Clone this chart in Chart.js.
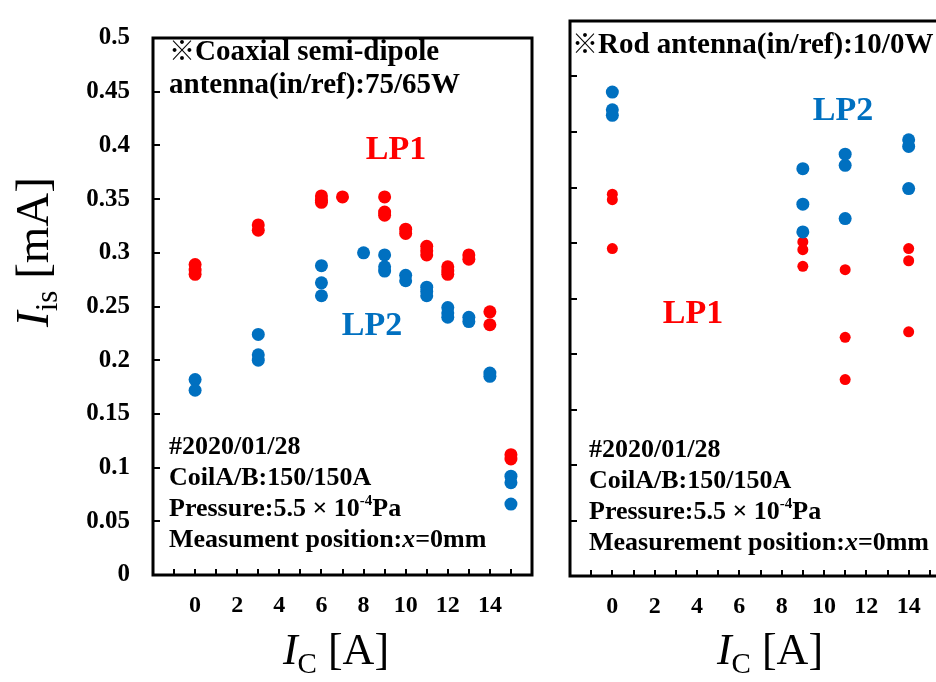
<!DOCTYPE html>
<html>
<head>
<meta charset="utf-8">
<script src="https://cdn.jsdelivr.net/npm/chart.js@4.4.0/dist/chart.umd.min.js"></script>
<style>
  html, body { margin: 0; padding: 0; background: #fff; overflow: hidden; }
  #wrap { position: relative; width: 936px; height: 682px; overflow: hidden; }
  canvas { position: absolute; top: 0; }
  #coax { left: 0; }
  #rod { left: 550px; }
</style>
</head>
<body>
<div id="wrap">
  <canvas id="coax" width="548" height="682" style="width:548px;height:682px"></canvas>
  <canvas id="rod" width="420" height="682" style="width:420px;height:682px"></canvas>
</div>
<script>
// Ion saturation current I_is [mA] vs coil current I_C [A]

// coaxial semi-dipole antenna, 75/65 W
const coaxLP1Ic  = [0, 0, 0, 3, 3, 6, 6, 6, 7, 9, 9, 9, 10, 10, 11, 11, 11, 12, 12, 12, 13, 13, 14, 14, 15, 15];
const coaxLP1Iis = [0.289, 0.284, 0.280, 0.326, 0.321, 0.353, 0.349, 0.347, 0.352, 0.352, 0.338, 0.335,
                    0.322, 0.318, 0.306, 0.302, 0.298, 0.287, 0.283, 0.280, 0.298, 0.294, 0.245, 0.233, 0.112, 0.108];
const coaxLP2Ic  = [0, 0, 3, 3, 3, 6, 6, 6, 8, 9, 9, 9, 10, 10, 11, 11, 11, 12, 12, 12, 13, 13, 14, 14, 15, 15, 15];
const coaxLP2Iis = [0.182, 0.172, 0.224, 0.205, 0.200, 0.288, 0.272, 0.260, 0.300, 0.298, 0.287, 0.283,
                    0.279, 0.274, 0.268, 0.264, 0.260, 0.249, 0.244, 0.240, 0.240, 0.236, 0.188, 0.185, 0.092, 0.086, 0.066];

// rod antenna, 10/0 W
const rodLP1Ic  = [0, 0, 0, 9, 9, 9, 11, 11, 11, 14, 14, 14];
const rodLP1Iis = [0.344, 0.339, 0.295, 0.301, 0.294, 0.279, 0.276, 0.215, 0.177, 0.295, 0.284, 0.220];
const rodLP2Ic  = [0, 0, 0, 9, 9, 9, 11, 11, 11, 14, 14, 14];
const rodLP2Iis = [0.436, 0.420, 0.415, 0.367, 0.335, 0.310, 0.380, 0.370, 0.322, 0.393, 0.387, 0.349];

// axes
const icMin = -2, icMax = 16, icStep = 1;
const icLabels = [0, 2, 4, 6, 8, 10, 12, 14];
const iisMin = 0, iisMax = 0.5, iisStep = 0.05;

const RED = '#ff0000';
const BLUE = '#0070c0';
const SERIF = "'Liberation Serif', 'Times New Roman', 'Noto Sans CJK JP', serif";

function pts(xs, ys) {
  return xs.map((x, i) => ({ x: x, y: ys[i] }));
}

// draw a run of text pieces one after another
function runs(ctx, x, y, parts, align) {
  let total = 0;
  parts.forEach(p => { ctx.font = p.font; total += ctx.measureText(p.t).width; });
  let cx = align === 'center' ? x - total / 2 : x;
  parts.forEach(p => {
    ctx.font = p.font;
    ctx.fillStyle = p.color || '#000';
    ctx.fillText(p.t, cx, y + (p.dy || 0));
    cx += ctx.measureText(p.t).width;
  });
}

const B = s => 'bold ' + s + 'px ' + SERIF;
const BI = s => 'italic bold ' + s + 'px ' + SERIF;
const R = s => s + 'px ' + SERIF;
const I = s => 'italic ' + s + 'px ' + SERIF;

const panelDecor = {
  id: 'panelDecor',
  afterDatasetsDraw(chart, args, o) {
    const ctx = chart.ctx, a = chart.chartArea;
    const xs = chart.scales.x, ys = chart.scales.y;
    ctx.save();
    ctx.strokeStyle = '#000';
    ctx.lineWidth = 3;
    ctx.strokeRect(a.left, a.top, a.right - a.left, a.bottom - a.top);

    // inward tick marks
    ctx.lineWidth = 2;
    ctx.beginPath();
    ys.ticks.forEach(t => {
      if (t.value <= iisMin || t.value >= iisMax - 1e-9) return;
      const py = Math.round(ys.getPixelForValue(t.value));
      ctx.moveTo(a.left, py); ctx.lineTo(a.left + 7, py);
    });
    xs.ticks.forEach(t => {
      if (t.value <= icMin || t.value >= icMax) return;
      const px = Math.round(xs.getPixelForValue(t.value));
      ctx.moveTo(px, a.bottom); ctx.lineTo(px, a.bottom - 6);
    });
    ctx.stroke();

    ctx.textBaseline = 'alphabetic';
    ctx.textAlign = 'left';
    o.notes.forEach(n => runs(ctx, n.x, n.y, n.parts, n.align));

    // x axis title: I_C [A]
    runs(ctx, o.xTitleX, 664, [
      { t: 'I', font: I(44) },
      { t: 'C', font: R(29), dy: 9 },
      { t: ' [A]', font: R(44) }
    ], 'center');

    if (o.yTitle) {
      ctx.translate(48, 252);
      ctx.rotate(-Math.PI / 2);
      runs(ctx, 0, 0, [
        { t: 'I', font: I(47) },
        { t: 'is', font: R(31), dy: 9 },
        { t: ' [mA]', font: R(47) }
      ], 'center');
    }
    ctx.restore();
  }
};

function infoBlock(x, y0, measLabel) {
  const f = 26, gap = 31;
  return [
    { x: x, y: y0, parts: [{ t: '#2020/01/28', font: B(f) }] },
    { x: x, y: y0 + gap, parts: [{ t: 'CoilA/B:150/150A', font: B(f) }] },
    { x: x, y: y0 + gap * 2, parts: [
      { t: 'Pressure:5.5', font: B(f) },
      { t: ' \u00d7 ', font: B(f) },
      { t: '10', font: B(f) },
      { t: '-4', font: B(15), dy: -11 },
      { t: 'Pa', font: B(f) }
    ] },
    { x: x, y: y0 + gap * 3, parts: [
      { t: measLabel + ' position:', font: B(f) },
      { t: 'x', font: BI(f) },
      { t: '=0mm', font: B(f) }
    ] }
  ];
}

function makePanel(id, o) {
  return new Chart(document.getElementById(id), {
    type: 'scatter',
    data: {
      datasets: [
        { label: 'LP2', data: o.lp2, backgroundColor: BLUE, borderWidth: 0, pointRadius: o.r2 },
        { label: 'LP1', data: o.lp1, backgroundColor: RED, borderWidth: 0, pointRadius: o.r1 }
      ]
    },
    options: {
      responsive: false,
      animation: false,
      clip: false,
      layout: { padding: { top: 21, right: o.padRight, left: 0, bottom: 0 } },
      plugins: {
        legend: { display: false },
        tooltip: { enabled: false },
        panelDecor: { notes: o.notes, yTitle: o.yTitle, xTitleX: o.xTitleX }
      },
      scales: {
        x: {
          type: 'linear', min: icMin, max: icMax,
          grid: { display: false, drawTicks: false },
          border: { display: false },
          ticks: {
            stepSize: icStep, autoSkip: false, maxRotation: 0, padding: 16,
            color: '#000', font: { family: SERIF, weight: 'bold', size: 24 },
            callback: v => icLabels.includes(v) ? String(v) : ''
          },
          afterFit: s => { s.height = o.xHeight; }
        },
        y: {
          type: 'linear', min: iisMin, max: iisMax,
          grid: { display: false, drawTicks: false },
          border: { display: false },
          ticks: {
            display: o.yLabels, stepSize: iisStep, padding: 23,
            color: '#000', font: { family: SERIF, weight: 'bold', size: 25 },
            callback: v => String(parseFloat(v.toFixed(2)))
          },
          afterFit: s => { s.width = o.yWidth; }
        }
      }
    },
    plugins: [panelDecor]
  });
}

makePanel('coax', {
  lp1: pts(coaxLP1Ic, coaxLP1Iis),
  lp2: pts(coaxLP2Ic, coaxLP2Iis),
  r1: 6.5, r2: 6.5,
  padRight: 16, yWidth: 153, xHeight: 107,
  yLabels: true, yTitle: true, xTitleX: 336,
  notes: [
    { x: 169, y: 60, parts: [{ t: '\u203b', font: B(26) }, { t: 'Coaxial semi-dipole', font: B(29) }] },
    { x: 169, y: 93, parts: [{ t: 'antenna(in/ref):75/65W', font: B(29) }] },
    { x: 396, y: 159, align: 'center', parts: [{ t: 'LP1', font: B(34), color: RED }] },
    { x: 372, y: 335, align: 'center', parts: [{ t: 'LP2', font: B(34), color: BLUE }] }
  ].concat(infoBlock(169, 454, 'Measument'))
});

makePanel('rod', {
  lp1: pts(rodLP1Ic, rodLP1Iis),
  lp2: pts(rodLP2Ic, rodLP2Iis),
  r1: 5.5, r2: 6.5,
  padRight: 19, yWidth: 20, xHeight: 106,
  yLabels: false, yTitle: false, xTitleX: 220,
  notes: [
    { x: 22, y: 53, parts: [{ t: '\u203b', font: B(26) }, { t: 'Rod antenna(in/ref):10/0W', font: B(29) }] },
    { x: 293, y: 120, align: 'center', parts: [{ t: 'LP2', font: B(34), color: BLUE }] },
    { x: 143, y: 323, align: 'center', parts: [{ t: 'LP1', font: B(34), color: RED }] }
  ].concat(infoBlock(39, 457, 'Measurement'))
});
</script>
</body>
</html>
